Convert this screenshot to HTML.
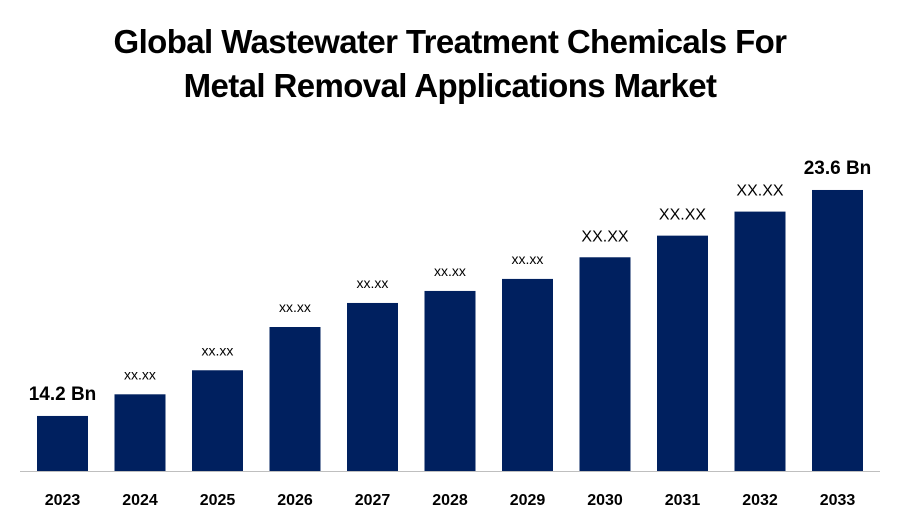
<!DOCTYPE html>
<html><head><meta charset="utf-8"><style>
body{margin:0;background:#fff;font-family:"Liberation Sans",sans-serif;}
#c{position:relative;width:900px;height:525px;overflow:hidden;}
.t{position:absolute;left:0;width:900px;text-align:center;font-weight:bold;font-size:33px;letter-spacing:-0.6px;color:#000;}
</style></head><body>
<div id="c">
<div class="t" style="top:23px">Global Wastewater Treatment Chemicals For</div>
<div class="t" style="top:67px">Metal Removal Applications Market</div>
<svg id="s" width="900" height="525" style="position:absolute;left:0;top:0"></svg>
</div>
<script>
const categories=["2023","2024","2025","2026","2027","2028","2029","2030","2031","2032","2033"];
const values=[14.2,15.1,16.1,17.9,18.9,19.4,19.9,20.8,21.7,22.7,23.6];
const valueLabels=["14.2 Bn","xx.xx","xx.xx","xx.xx","xx.xx","xx.xx","xx.xx","XX.XX","XX.XX","XX.XX","23.6 Bn"];
const ns="http://www.w3.org/2000/svg";
const s=document.getElementById('s');
const base=471, v0=11.91, k=24.04;
const y=v=>base-(v-v0)*k;
const x=i=>37+i*77.5;
const bw=51;
function mk(t,a){const e=document.createElementNS(ns,t);for(const n in a)e.setAttribute(n,a[n]);s.appendChild(e);return e;}
categories.forEach((c,i)=>{
  const r=mk('rect',{x:x(i),y:y(values[i]),width:bw,height:base-y(values[i]),fill:'#00205f'});
  
  
  const lab=valueLabels[i];
  const big=lab.indexOf('Bn')>=0, caps=lab==='XX.XX';
  const t=mk('text',{x:x(i)+bw/2,y:y(values[i])-(big?16:(caps?16:15)),'text-anchor':'middle','font-size':big?19:(caps?16:14),'font-weight':big?'bold':'normal',fill:'#000'});
  t.textContent=lab;
  
  
  const xl=mk('text',{x:x(i)+bw/2,y:505,'text-anchor':'middle','font-size':16,'font-weight':'bold',fill:'#000'});
  xl.textContent=c;
  
  
});
const ax=mk('line',{x1:20,x2:880,y1:base+0.5,y2:base+0.5,stroke:'#bfbfbf','stroke-width':1});


</script>
</body></html>
